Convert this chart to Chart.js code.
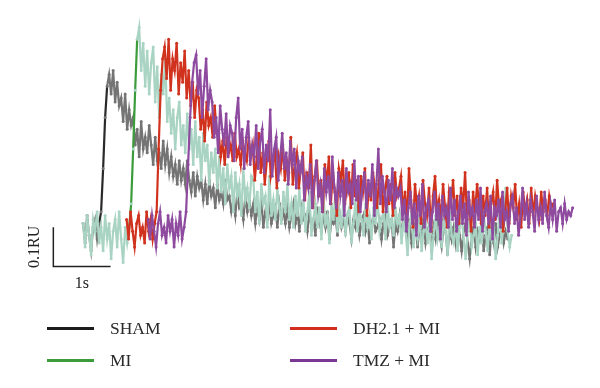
<!DOCTYPE html>
<html>
<head>
<meta charset="utf-8">
<script src="https://cdn.jsdelivr.net/npm/chart.js@4"></script>
<style>
  body { margin: 0; background: #fff; }
  .wrap { position: relative; width: 600px; height: 388px; }
  canvas { position: absolute; left: 0; top: 0; }
  .leg { position: absolute; display: flex; align-items: center; font-family: "Liberation Serif", "DejaVu Serif", serif; font-size: 17.5px; color: #2a2a2a; }
  .leg i { display: inline-block; width: 47px; height: 3px; margin-right: 16px; }
</style>
</head>
<body>
<div class="wrap">
  <canvas id="chart" width="600" height="388"></canvas>
  <div class="leg" style="left:47px; top:318px;"><i style="background:#1c1c1c"></i>SHAM</div>
  <div class="leg" style="left:290px; top:318px;"><i style="background:#d42b1f"></i>DH2.1 + MI</div>
  <div class="leg" style="left:47px; top:350px;"><i style="background:#3c9c3c"></i>MI</div>
  <div class="leg" style="left:290px; top:350px;"><i style="background:#7b3794"></i>TMZ + MI</div>
</div>
<script>
// sample spacing (s) and start time of each recording
const dt = 0.035;
const shamStart = 0.52;
const miStart = 0.52;
const dhStart = 1.28;
const tmzStart = 1.655;

// fluorescence, in units of 0.01 RU
const sham = [11,6,13,8,4,10,12,7,11, 14,25,38,46,
  49,44,50,42,47,41, 43,37,44,35,40,36,
  38,31,35,28,37,30,33,29,36, 31,26,33,27,29,25,32,26,30,24,
  28,23,26,21,27,22,25,21,27, 22,19,24,18,23,20,22,
  17,21,16,22,18,20,15,21,17,19,16,22,17,
  18,14,17,13,19,15,16,12,18,14,17,13,
  16,11,15,12,17,10,14,12,16,11,13,15,10,16,12,14,11,15,10,13,16,11,14,9,15,12,
  13,9,14,10,12,8,15,11,9,13, 10,14,7,12,11,13,8,14,10,12,
  9,13,11,7,12,10,14,8,11,13, 9,12,6,11,13,9,10,12,7,11,
  13,8,10,12,5,11,9,13,8,12,
  10,7,12,6,9,11,5,10,8,12, 6,9,11,4,10,7,12,8,5,10,
  9,3,11,7,10,6,12,8,4,9, 11,6,2,8,10,5,9,7,11,4,
  8,10,3,9,6,11,5,8,10,6, 9,7];

const mi = [11,5,13,8,3,12,9,14,6,10,4,13,7,11,2,9,12,5,14,7,1,10,6,
  10,16,30,45,58,
  61,50,57,46,55,44,52, 56,42,51,38,49,44,53,37,
  43,34,40,30,38,42,31,36,29,
  39,30,35,26,37,28,33,22,34,27,31,21,29,24,30,20,
  28,19,25,16,26,20,23,14,24,18,21,13,25,17,20,15,23,
  22,14,19,11,21,16,18,10,23,13,17,12,20,15,11,19,14,21,12,16,10,18,13,20,11,
  17,9,14,19,8,12,16,10,15,7, 18,11,13,6,16,12,19,9,14,10,
  17,8,13,15,6,11,17,9,14,12, 8,16,10,13,7,15,11,18,9,12,
  14,7,16,10,12,8,15,11,13,
  6,12,9,3,11,14,5,10,7,13, 4,9,12,6,11,2,8,13,7,10,
  5,12,9,3,14,8,6,11,4,10, 13,7,2,9,12,5,8,11,3,10,
  6,13,9,4,12,7,10,2,8,14, 6,11,20,9,5,8];

const dh = [12,7,14,9,5,11,13,8,10,6,14,9,12,7,11,
  14,30,45,53,
  56,48,58,45,53,50,57,44,52,47,55,43,
  50,41,47,38,45, 43,35,40,32,42,36,38,33,41,34,
  34,28,32,26,33,29,31,27,34,28,30,26,32,29,27,33,28,
  31,22,28,34,24,29,21,27,32,23,26,30,20,28,25,31,22,27,24,33,21,26,29,20,25,
  29,17,24,20,31,15,23,27,18,22, 14,26,21,28,16,24,19,13,25,22,
  27,16,20,24,15,26,18,22,14,23, 19,25,13,21,17,24,20,15,22,26,
  14,19,23,16,21,13,24,18,20,
  23,14,19,12,25,17,10,21,15,18, 11,22,16,13,20,9,18,23,14,17,
  12,21,15,10,19,16,22,13,18,11, 20,15,24,12,17,9,19,14,21,16,
  11,18,13,20,10,16,19,12,22,15, 17,9,14,20,11,18,15,21,12,16,
  10,19,14,17,11,20,13,18,15,12, 19,14,17,13,18,15,16];

const tmz = [12,7,13,9,5,11,14,8,10,6,13,9,12,5,11,8,14,7,10,
  14,26,38,47,52,
  54,44,50,38,46,53,40,45, 42,33,38,29,41,35,31,39,28,36,
  34,27,38,43,30,35,25,33,37,26,31,28,36,25,32,
  35,24,31,27,40,23,30,33,22,28,34,25,29,21,32,26,30,20,27,24,
  28,17,23,20,26,15,22,27,18,21, 14,25,19,23,16,28,20,15,24,18,
  22,13,25,19,21,16,27,17,23,14, 20,24,15,22,18,26,13,21,30,16,
  23,19,14,22,17,25,15,20,18,
  20,12,17,9,15,19,11,16,8,18, 13,21,10,15,17,9,14,19,12,16,
  7,18,13,15,10,20,12,17,9,14, 18,11,16,8,19,13,15,10,17,12,
  20,9,14,16,11,18,7,15,13,17, 10,19,12,14,9,16,18,11,15,8,
  13,20,12,16,10,17,14,9,18,12, 15,11,19,13,10,16,12,17,9,14,
  15,11,16,12,14,13,15];

// scale bar: 1 s by 0.1 RU
const barX = [0, 0, 1];
const barY = [10, 0, 0];

function series(start, values) {
    return values.map((v, i) => ({ x: start + i * dt, y: v }));
}

// colour the steep upstroke differently (as in the original traces)
function riseColor(base, rise, from, to) {
    return ctx => (ctx.p0DataIndex >= from && ctx.p1DataIndex <= to) ? rise : base;
}

function trace(label, start, values, color, order, rise) {
    return {
        label: label,
        data: series(start, values),
        borderColor: color,
        backgroundColor: color,
        borderWidth: 2.2,
        pointRadius: 1.5,
        pointBorderWidth: 0,
        pointBackgroundColor: color,
        tension: 0,
        order: order,
        segment: rise ? { borderColor: riseColor(color, rise.color, rise.from, rise.to) } : undefined
    };
}

const scaleLabels = {
    id: 'scaleLabels',
    afterDatasetsDraw(chart) {
        const { ctx, scales: { x, y } } = chart;
        ctx.save();
        ctx.fillStyle = '#222';
        ctx.font = '16px "Liberation Serif", serif';
        ctx.textAlign = 'center';
        ctx.textBaseline = 'middle';
        ctx.fillText('1s', x.getPixelForValue(0.5), y.getPixelForValue(-4.3));
        ctx.translate(x.getPixelForValue(0) - 19, y.getPixelForValue(5));
        ctx.rotate(-Math.PI / 2);
        ctx.fillText('0.1RU', 0, 0);
        ctx.restore();
    }
};

new Chart(document.getElementById('chart'), {
    type: 'line',
    data: {
        datasets: [
            trace('TMZ + MI', tmzStart, tmz, '#8d4a9e', 1),
            trace('DH2.1 + MI', dhStart, dh, '#d1321e', 2),
            trace('MI', miStart, mi, '#a9d4c3', 3, { color: '#3c9c3c', from: 23, to: 27 }),
            trace('SHAM', shamStart, sham, '#747474', 4, { color: '#2a2a2a', from: 8, to: 12 }),
            {
                label: 'bar',
                data: barX.map((v, i) => ({ x: v, y: barY[i] })),
                borderColor: '#222',
                borderWidth: 1.5,
                pointRadius: 0,
                order: 0
            }
        ]
    },
    options: {
        responsive: false,
        animation: false,
        layout: { padding: 0 },
        plugins: { legend: { display: false }, tooltip: { enabled: false } },
        scales: {
            x: { type: 'linear', min: -50 / 58, max: 550 / 58, display: false },
            y: { min: -30, max: 67, display: false }
        }
    },
    plugins: [scaleLabels]
});
</script>
</body>
</html>
